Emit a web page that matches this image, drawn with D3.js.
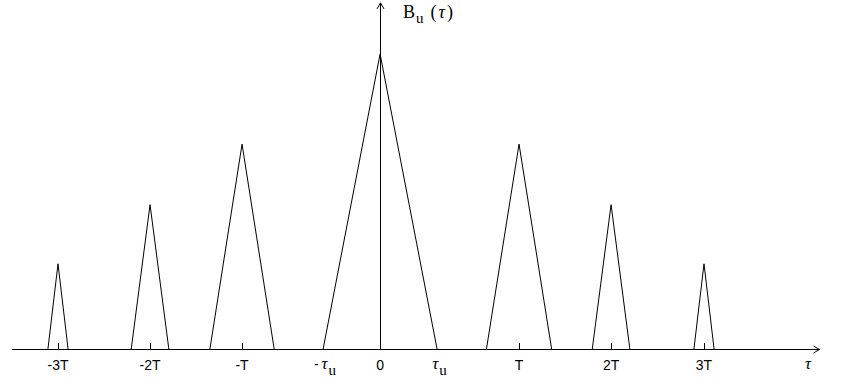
<!DOCTYPE html>
<html>
<head>
<meta charset="utf-8">
<script src="https://cdn.jsdelivr.net/npm/d3@7"></script>
<style>
  html, body { margin: 0; padding: 0; background: #fff; }
  svg { display: block; }
</style>
</head>
<body>
<svg id="chart" width="841" height="388"></svg>
<script>
// ---- data ----
// positions of the peaks along τ, in drawing units (0 = origin)
const peakPositions = [-7, -5, -3, 0, 3.02, 5.02, 7.04];
const tickLabels    = ["-3T", "-2T", "-T", "0", "T", "2T", "3T"];
// relative height of each triangular peak (centre = 1)
const peakHeights   = [0.29, 0.49, 0.695, 1.0, 0.695, 0.49, 0.29];
// half base width of each peak, same units as positions
const peakHalfWidths = [0.22, 0.41, 0.70, 1.24, 0.71, 0.41, 0.22];
// τ_u marks at the centre peak base
const tauU = 1.24;

const svg = d3.select("#chart");

const x = d3.scaleLinear().domain([-8, 9.55]).range([12, 819.5]);
const y = d3.scaleLinear().domain([0, 1]).range([349.5, 54]);

const ink = "#000";

// peaks (triangles)
const peaks = peakPositions.map((p, i) => ({ p, h: peakHeights[i], w: peakHalfWidths[i] }));
const line = d3.line().x(d => x(d[0])).y(d => y(d[1]));
svg.append("g").selectAll("path").data(peaks).join("path")
  .attr("d", d => line([[d.p - d.w, 0], [d.p, d.h], [d.p + d.w, 0]]))
  .attr("fill", "none").attr("stroke", ink).attr("stroke-width", 1);

// horizontal axis
const axisY = y(0);
const xEnd = x(9.55);
svg.append("line").attr("x1", x(-8)).attr("x2", xEnd).attr("y1", axisY).attr("y2", axisY)
  .attr("stroke", ink).attr("stroke-width", 1).attr("shape-rendering", "crispEdges");
svg.append("path")
  .attr("d", `M${xEnd - 6},${axisY - 3.5}L${xEnd},${axisY}L${xEnd - 6},${axisY + 3.5}`)
  .attr("fill", "none").attr("stroke", ink).attr("stroke-width", 1);

// vertical axis
const x0 = Math.round(x(0)) + 0.5;
const yTop = y(1.173);
svg.append("line").attr("x1", x0).attr("x2", x0).attr("y1", axisY).attr("y2", yTop)
  .attr("stroke", ink).attr("stroke-width", 1);
svg.append("path")
  .attr("d", `M${x0 - 3.5},${yTop + 6}L${x0},${yTop}L${x0 + 3.5},${yTop + 6}`)
  .attr("fill", "none").attr("stroke", ink).attr("stroke-width", 1);

// tick marks
svg.append("g").selectAll("line").data(peakPositions.filter(p => p !== 0)).join("line")
  .attr("x1", d => Math.round(x(d)) + 0.5).attr("x2", d => Math.round(x(d)) + 0.5)
  .attr("y1", axisY).attr("y2", axisY - 7)
  .attr("stroke", ink).attr("stroke-width", 1).attr("shape-rendering", "crispEdges");

// tick labels
svg.append("g").selectAll("text").data(peakPositions).join("text")
  .attr("x", d => x(d)).attr("y", 370)
  .attr("text-anchor", "middle")
  .attr("font-family", "'Liberation Sans', Arial, sans-serif")
  .attr("font-size", 14)
  .attr("fill", ink)
  .text((d, i) => tickLabels[i]);

// τ_u labels
function tauLabel(cx, prefix) {
  const t = svg.append("text")
    .attr("x", cx).attr("y", 369)
    .attr("font-family", "'Liberation Serif', 'Times New Roman', serif")
    .attr("font-size", 17).attr("fill", ink);
  if (prefix) t.append("tspan").attr("font-family", "'Liberation Sans', Arial, sans-serif")
    .attr("font-size", 14).text(prefix + "\u2009");
  t.append("tspan").attr("font-style", "italic").text("τ");
  t.append("tspan").attr("dy", 6).attr("dx", 1).attr("font-size", 15).text("u");
  return t;
}
tauLabel(x(-tauU) - 9, "-");
tauLabel(x(tauU) - 5, null);

// axis name on the right
svg.append("text").attr("x", 808).attr("y", 369)
  .attr("text-anchor", "middle")
  .attr("font-family", "'Liberation Serif', 'Times New Roman', serif")
  .attr("font-style", "italic").attr("font-size", 17).attr("fill", ink)
  .text("τ");

// vertical axis title B_u (τ)
const title = svg.append("text").attr("x", 403).attr("y", 18)
  .attr("font-family", "'Liberation Serif', 'Times New Roman', serif")
  .attr("font-size", 18).attr("fill", ink);
title.append("tspan").text("B");
title.append("tspan").attr("dy", 5).attr("dx", 1).attr("font-size", 15).text("u");
title.append("tspan").attr("dy", -5).attr("dx", 7).text("(");
title.append("tspan").attr("dx", 2).attr("font-style", "italic").text("τ");
title.append("tspan").attr("dx", 2).text(")");
</script>
</body>
</html>
